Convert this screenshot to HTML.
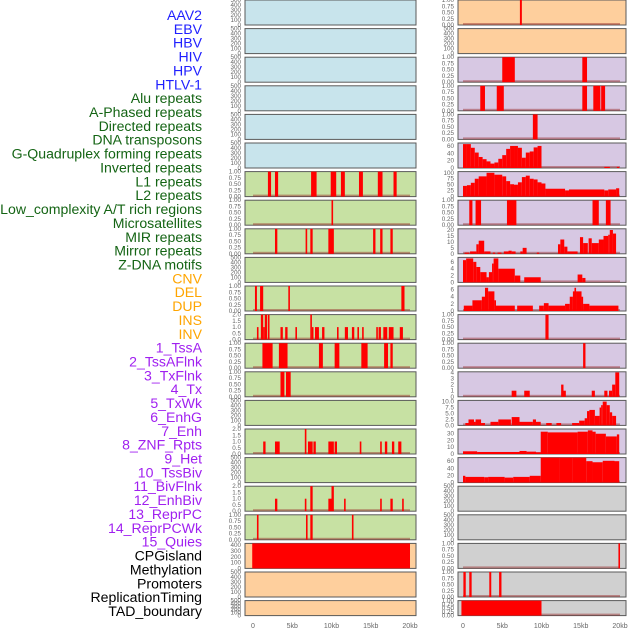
<!DOCTYPE html>
<html><head><meta charset="utf-8">
<style>
html,body{margin:0;padding:0;background:#fff;}
svg{display:block;font-family:"Liberation Sans",sans-serif;}
</style></head>
<body>
<svg id="chart" width="630" height="630" viewBox="0 0 630 630" xmlns="http://www.w3.org/2000/svg"></svg>
<script>
// ---------- data ----------
const labelNames = ["AAV2","EBV","HBV","HIV","HPV","HTLV-1","Alu repeats","A-Phased repeats","Directed repeats","DNA transposons","G-Quadruplex forming repeats","Inverted repeats","L1 repeats","L2 repeats","Low_complexity A/T rich regions","Microsatellites","MIR repeats","Mirror repeats","Z-DNA motifs","CNV","DEL","DUP","INS","INV","1_TssA","2_TssAFlnk","3_TxFlnk","4_Tx","5_TxWk","6_EnhG","7_Enh","8_ZNF_Rpts","9_Het","10_TssBiv","11_BivFlnk","12_EnhBiv","13_ReprPC","14_ReprPCWk","15_Quies","CPGisland","Methylation","Promoters","ReplicationTiming","TAD_boundary"];
const labelGroups = [6,13,5,15,5];
const groupColors = ["#1f1fff","#146414","#ffa500","#a020f0","#000000"];

const xTickValues = [0,5,10,15,20];
const xTickLabels = ["0","5kb","10kb","15kb","20kb"];

const ticksCount = [0,100,200,300,400,500];
const ticksUnit = [0,0.25,0.5,0.75,1];
const ticksTwo = [0,0.5,1,1.5,2];

// segments: [startKb, endKb, value]
const alu = [[1.9,2.3,1],[2.8,3.2,1],[7.4,8.1,1],[9.9,10.6,1],[11.2,11.7,1],[13.5,14,1],[15.9,16.5,1],[17.9,18.3,1]];
const aPhased = [[10.0,10.2,1]];
const directed = [[2.8,3.1,1],[6.7,6.9,1],[7.3,7.6,1],[9.6,10.3,1],[15.3,15.6,1],[16.2,16.5,1],[17.5,17.8,1]];
const gQuad = [[0.25,0.5,1],[0.9,1.3,1],[4.5,4.7,1],[18.9,19.3,1]];
const inverted = [[0.5,0.7,1],[1.0,1.3,2],[1.3,1.5,1],[1.5,1.8,2],[1.9,2.1,2],[3.5,3.8,1],[4.1,4.4,1],[5.4,5.6,1],[7.3,7.45,2],[7.5,7.7,1],[7.9,8.4,1],[8.8,9.1,1],[10.7,10.9,1],[11.7,12.1,1],[12.6,12.9,1],[13.3,13.5,1],[13.9,14.1,1],[15.7,15.9,1],[16.0,16.3,1],[16.6,17.1,1],[17.3,17.9,1],[18.7,19.1,1]];
const l1 = [[1.2,2.5,1],[3.3,4.4,1],[8.4,8.9,1],[10.4,11.0,1],[13.8,14.6,1],[16.7,17.2,1],[17.5,17.8,1]];
const l2 = [[3.5,4.0,1],[4.2,4.8,1]];
const micro = [[1.3,1.6,1],[2.8,3.4,1],[6.6,6.8,2],[7.0,7.6,1],[7.7,8.0,1],[9.6,10.3,1],[10.4,10.7,1],[13.6,13.8,1],[16.2,16.4,1],[16.8,17.1,1],[17.7,18.0,1],[18.5,18.9,1]];
const mirror = [[2.8,3.1,1],[6.6,6.8,1],[7.3,7.6,2],[9.6,10.0,1],[10.0,10.3,2],[11.6,11.8,1],[16.2,16.4,1],[17.5,17.8,1],[19.0,19.2,1]];
const zdna = [[0.5,0.7,1],[6.75,6.95,1],[7.3,7.6,1],[12.6,12.8,1]];
const cnv = [[-0.1,20.0,430]];
const ins = [[7.25,7.5,1]];
const tssA = [[5.0,6.6,1],[15.2,15.8,1]];
const tssAFlnk = [[2.2,2.8,1],[4.3,5.2,1],[15.2,15.8,1],[16.6,17.5,1],[17.6,18.1,1]];
const txFlnk = [[8.9,9.5,1]];
const tx = [[0,0.5,65],[0.5,1,65],[1,1.5,55],[1.5,2,42],[2,2.5,30],[2.5,3,24],[3,3.5,18],[3.5,4,12],[4,4.5,15],[4.5,5,25],[5,5.5,35],[5.5,6,52],[6,6.5,60],[6.5,7,60],[7,7.5,55],[7.5,8,28],[8,8.5,42],[8.5,9,45],[9,9.5,56],[9.5,10,60],[18.0,18.7,3],[19.6,19.9,3]];
const txWk = [[0,0.5,45],[0.5,1,48],[1,1.5,58],[1.5,2,75],[2,3,85],[3,4,100],[4,5,92],[5,5.5,85],[5.5,6,65],[6,6.5,52],[6.5,7,50],[7,7.5,60],[7.5,8,82],[8,8.5,88],[8.5,9,75],[9,9.5,72],[9.5,10,60],[10,10.5,55],[10.5,13,33],[13,13.5,26],[13.5,18,30],[18,18.5,26],[18.5,19.5,30],[19.5,19.9,35]];
const enhG = [[0.8,1.2,1],[1.6,2.3,1],[5.6,6.8,1],[16.5,17.3,1],[18.2,18.8,1]];
const enh = [[0.2,0.8,1],[0.9,1.7,2],[1.7,2.0,8],[2.0,2.7,11],[2.7,3.5,2],[3.8,4.1,1],[4.4,4.9,1],[5.2,5.8,2],[5.8,6.2,2.6],[6.2,6.7,2],[7.3,7.6,2],[7.6,8.1,5],[9.4,9.7,1],[12.1,12.4,8],[12.4,12.9,12],[12.9,13.3,6],[13.3,14.6,2],[14.9,15.3,14],[15.3,15.9,9],[16.0,16.4,13],[16.4,17.3,9],[17.3,17.9,12],[17.9,18.5,15],[18.5,18.7,16],[18.7,19.1,20],[19.1,19.5,17]];
const znf = [[0,0.4,6.5],[0.4,1.3,7],[1.3,1.7,6],[1.7,2.2,4.5],[2.2,3.0,3],[3.0,3.3,1.5],[3.3,3.7,3],[3.7,3.9,5.5],[3.9,4.5,7],[4.5,6.6,4],[6.6,7.3,2],[7.8,9.9,1.5],[14.6,15.2,2.3],[15.2,15.6,1.3]];
const het = [[0.1,1.2,1.5],[1.2,2.4,3],[2.4,2.8,4],[2.8,3.2,6.5],[3.2,4.0,5.5],[4.0,4.2,3],[4.2,6.6,1.5],[6.9,8.9,1.5],[9.7,10.3,1.5],[10.3,10.9,2.2],[10.9,13.0,1.5],[13.0,13.6,2],[13.6,14.0,4],[14.0,14.2,5.5],[14.2,14.4,6.5],[14.4,15.1,5.5],[15.1,15.3,4],[15.3,16.1,2],[16.1,19.8,1.5]];
const tssBiv = [[10.5,10.9,1]];
const bivFlnk = [[15.3,15.6,1]];
const enhBiv = [[6.2,6.8,1],[7.8,8.5,1],[12.5,12.8,2],[12.8,13.1,1],[16.4,16.8,1],[18.0,18.4,1],[18.6,19.0,1],[19.0,19.4,2],[19.4,19.9,4]];
const reprPC = [[0.3,0.7,1],[0.7,1.4,2.5],[1.4,1.6,1.5],[1.6,2.3,2.5],[2.3,2.8,1],[3.5,4.5,1.5],[4.5,6.1,2.5],[6.2,7.2,3.5],[7.2,8.9,1.5],[8.9,9.3,2.5],[9.3,9.9,1.5],[10.6,11.3,1],[11.9,12.5,1],[13.9,14.8,1],[14.8,15.5,2],[15.5,15.8,3],[15.8,16.1,6],[16.1,16.8,6.5],[16.8,17.4,4],[17.4,17.6,7.5],[17.6,17.8,8.5],[17.8,18.3,10],[18.3,18.7,8.5],[18.7,19.0,5.5],[19.0,19.5,4]];
const reprPCWk = [[0,1.8,4],[1.8,7.2,3],[7.2,8.1,4.5],[8.1,9.3,3.5],[9.3,9.9,2.5],[9.9,10.8,33],[10.8,14.6,32],[14.6,15.9,33],[15.9,16.5,35],[16.5,16.9,33],[16.9,18.2,30],[18.2,19.6,26],[19.6,19.9,29]];
const quies = [[0,0.3,19],[0.3,2.7,16],[2.7,3.2,15],[3.2,5.3,16],[5.3,6.4,14],[6.4,8.5,16],[8.5,9.9,19],[9.9,12.3,70],[12.3,14.0,72],[14.0,15.7,70],[15.7,16.5,60],[16.5,17.8,57],[17.8,19.3,61],[19.3,19.9,60]];
const methyl = [[19.8,20.0,1]];
const promoters = [[0.05,0.35,1],[0.8,1.1,1],[3.35,3.6,1],[4.6,4.9,1]];
const tad = [[-0.2,10.0,1]];

const BLUE="#c8e4ec", GREEN="#c7e1a3", ORANGE="#fecf9d", PURPLE="#d7c8e3", GREY="#d0d0d0";
// [bg, ticks, tickDecimals, ymax, segments]
const leftPanels = [
 [BLUE,ticksCount,0,500,null],[BLUE,ticksCount,0,500,null],[BLUE,ticksCount,0,500,null],
 [BLUE,ticksCount,0,500,null],[BLUE,ticksCount,0,500,null],[BLUE,ticksCount,0,500,null],
 [GREEN,ticksUnit,2,1,alu],[GREEN,ticksUnit,2,1,aPhased],[GREEN,ticksUnit,2,1,directed],
 [GREEN,ticksCount,0,500,null],[GREEN,ticksUnit,2,1,gQuad],[GREEN,ticksTwo,1,2,inverted],
 [GREEN,ticksUnit,2,1,l1],[GREEN,ticksUnit,2,1,l2],[GREEN,ticksCount,0,500,null],
 [GREEN,ticksTwo,1,2,micro],[GREEN,ticksCount,0,500,null],[GREEN,ticksTwo,1,2,mirror],
 [GREEN,ticksUnit,2,1,zdna],[ORANGE,[0,100,200,300,400],0,430,cnv],
 [ORANGE,ticksCount,0,500,null],[ORANGE,ticksCount,0,500,null]
];
const rightPanels = [
 [ORANGE,ticksUnit,2,1,ins],[ORANGE,ticksCount,0,500,null],
 [PURPLE,ticksUnit,2,1,tssA],[PURPLE,ticksUnit,2,1,tssAFlnk],[PURPLE,ticksUnit,2,1,txFlnk],
 [PURPLE,[0,20,40,60],0,68,tx],[PURPLE,[0,25,50,75,100],0,105,txWk],[PURPLE,ticksUnit,2,1,enhG],
 [PURPLE,[0,5,10,15,20],0,21,enh],[PURPLE,[0,2,4,6],0,7.3,znf],[PURPLE,[0,2,4,6],0,7,het],
 [PURPLE,ticksUnit,2,1,tssBiv],[PURPLE,ticksUnit,2,1,bivFlnk],[PURPLE,[0,1,2,3,4],0,4.1,enhBiv],
 [PURPLE,[0,2.5,5,7.5,10],1,10.5,reprPC],[PURPLE,[0,10,20,30],0,37,reprPCWk],[PURPLE,[0,20,40,60],0,70,quies],
 [GREY,ticksCount,0,500,null],[GREY,ticksCount,0,500,null],[GREY,ticksUnit,2,1,methyl],
 [GREY,ticksUnit,2,1,promoters],[GREY,ticksUnit,2,1,tad]
];

// ---------- drawing ----------
const svg = document.getElementById('chart');
const NS = "http://www.w3.org/2000/svg";
function mk(tag, attrs){ const e=document.createElementNS(NS,tag); for(const k in attrs) e.setAttribute(k,attrs[k]); svg.appendChild(e); return e; }

// labels
let li=0;
labelGroups.forEach((n,g)=>{
  for(let j=0;j<n;j++){
    const t=mk('text',{x:202,y:(20+li*13.86).toFixed(1),'text-anchor':'end','font-size':14.1,fill:groupColors[g]});
    t.textContent=labelNames[li];
    
    
    li++;
  }
});

function drawColumn(panels, px0, pw, zeroX, side){
  const kbScale = 7.85;
  const xs = kb => zeroX + kb*kbScale;
  panels.forEach((p,i)=>{
    const [bg,ticks,dec,ymax,segs]=p;
    const top = i*28.6, h = (i===21)?15:25;
    const ys = v => top+h - (v/ymax)*h;
    const r=mk('rect',{x:px0,y:top,width:pw,height:h,fill:bg,stroke:'#5a5a5a','stroke-width':1});
    
    
    ticks.forEach(tv=>{
      const t=mk('text',{x:px0-4,y:(ys(tv)+2).toFixed(1),'text-anchor':'end','font-size':6.3,fill:'#666'});
      t.textContent = tv.toFixed(dec);
      
      
    });
    if(segs){
      mk('rect',{x:xs(0),y:top+h-2,width:xs(20)-xs(0),height:2,fill:'rgba(150,40,40,0.45)'});
      segs.forEach(s=>{
        const x1=xs(s[0]), x2=xs(s[1]);
        const y1=Math.max(ys(s[2]),top);
        const b=mk('rect',{x:x1.toFixed(2),y:y1.toFixed(2),width:Math.max(1.6,x2-x1).toFixed(2),height:(top+h-y1).toFixed(2),fill:'#ff0000'});
        
        
      });
    }
  });
  xTickValues.forEach((v,k)=>{
    const t=mk('text',{x:xs(v),y:628,'text-anchor':'middle','font-size':7,fill:'#666'});
    t.textContent=xTickLabels[k];
    
    
  });
}
drawColumn(leftPanels,245,171,253,'left');
drawColumn(rightPanels,458,168,463,'right');
</script>
</body></html>
